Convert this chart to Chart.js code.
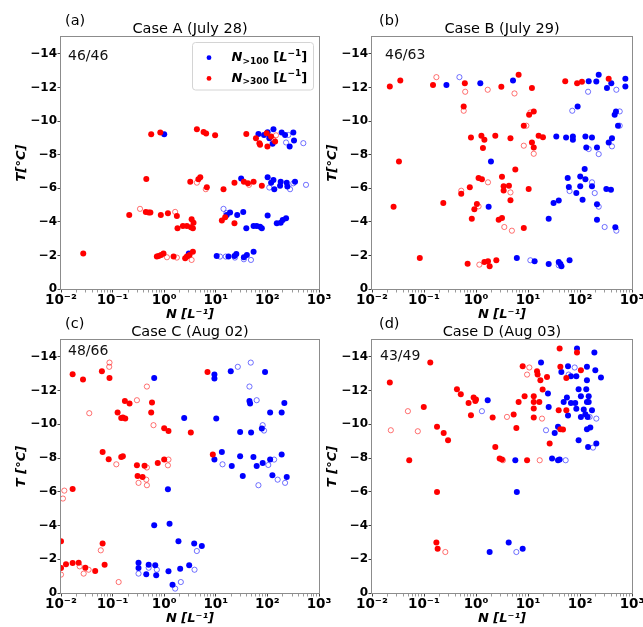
<!DOCTYPE html>
<html><head><meta charset="utf-8">
<script src="https://cdn.jsdelivr.net/npm/chart.js@4.4.1/dist/chart.umd.min.js"></script>
<style>
html,body{margin:0;padding:0;background:#fff;}
#wrap{position:relative;width:643px;height:627px;overflow:hidden;background:#fff;}
canvas{position:absolute;left:0;top:0;}
</style></head><body>
<div id="wrap">
<canvas id="pa" width="643" height="627" style="width:643px;height:627px"></canvas>
<canvas id="pb" width="643" height="627" style="width:643px;height:627px"></canvas>
<canvas id="pc" width="643" height="627" style="width:643px;height:627px"></canvas>
<canvas id="pd" width="643" height="627" style="width:643px;height:627px"></canvas>
</div>
<script>
// ---------- axis ticks / labels ----------
const xTickValues = [0.01, 0.1, 1, 10, 100, 1000];
const xTickLabels = ['10\u207B\u00B2', '10\u207B\u00B9', '10\u2070', '10\u00B9', '10\u00B2', '10\u00B3'];
const yTickValues = [-14, -12, -10, -8, -6, -4, -2, 0];
const panelTags = ['(a)', '(b)', '(c)', '(d)'];
const panelTitles = ['Case A (July 28)', 'Case B (July 29)', 'Case C (Aug 02)', 'Case D (Aug 03)'];
const panelCounts = ['46/46', '46/63', '48/66', '43/49'];
const yAxisTitles = ['T[\u00B0C]', 'T[\u00B0C]', 'T [\u00B0C]', 'T [\u00B0C]'];
const xAxisTitle = 'N [L\u207B\u00B9]';
const legendSubs = ['>100', '>300'];

// ---------- data: [N (L^-1), T (°C)] ----------
const aBlueFilled = [[1.0,-9.21],[67,-9.23],[86,-9.17],[101,-9.33],[109,-8.98],[131,-9.51],[126,-8.64],[189,-9.31],[220,-9.17],[270,-8.48],[318,-9.31],[328,-8.84],
[31,-6.57],[101,-6.65],[118,-6.33],[131,-6.49],[136,-5.94],[176,-6.14],[181,-6.39],[237,-6.33],[244,-6.10],[343,-6.39],
[16.3,-4.41],[18.9,-4.55],[26,-4.41],[34,-4.59],[39,-3.61],[54,-3.75],[62,-3.75],[72,-3.71],[78,-3.61],[101,-4.37],[152,-3.91],[181,-3.95],[198,-4.11],[230,-4.21],
[3.0,-2.12],[10.4,-1.97],[17.6,-1.93],[23,-1.97],[25,-2.08],[35,-1.89],[40,-2.03],[54,-2.22]];
const aBlueOpen = [[255,-9.17],[230,-8.72],[497,-8.68],[109,-6.04],[275,-5.94],[318,-6.29],[560,-6.20],[14.1,-4.77],[16,-4.51],[12.1,-1.93],[15.6,-1.93],[23.5,-1.87],[35,-1.77],[48,-1.73]];
const aRedFilled = [[0.027,-2.12],[0.56,-9.21],[0.84,-9.31],[4.3,-9.51],[5.8,-9.35],[6.5,-9.25],[9.7,-9.15],[39,-9.23],[60,-8.98],[70,-8.68],[72,-8.58],[97,-9.27],[100,-8.48],[118,-9.07],[141,-8.78],
[0.45,-6.55],[3.2,-6.39],[4.6,-6.53],[5.0,-6.65],[6.7,-6.06],[14.1,-5.94],[23,-6.33],[35,-6.39],[42,-6.29],[54,-6.39],[78,-6.14],
[0.21,-4.41],[0.44,-4.59],[0.50,-4.55],[0.54,-4.55],[0.86,-4.41],[1.18,-4.51],[1.76,-4.35],[1.81,-3.61],[2.3,-3.75],[2.75,-3.75],[3.3,-3.67],[3.4,-4.15],[3.7,-3.95],[3.6,-3.61],[13.1,-4.07],[15.2,-4.27],[23,-3.91],
[0.72,-1.93],[0.78,-1.97],[0.87,-2.03],[0.97,-2.12],[1.52,-1.93],[2.55,-1.83],[2.75,-1.93],[3.1,-2.03],[3.6,-2.22]];
const aRedOpen = [[147,-9.15],[131,-8.88],[4.3,-6.33],[6.4,-5.94],[44,-6.2],[0.34,-4.77],[1.63,-4.59],[1.13,-1.89],[1.76,-1.87],[3.4,-1.73]];

const bBlueFilled = [[0.27,-12.14],[1.21,-12.25],[5.15,-12.41],[147,-12.37],[229,-12.75],[206,-12.35],[330,-11.96],[400,-12.25],[745,-12.51],[745,-12.06],
[90,-10.87],[492,-10.57],[464,-10.37],[538,-9.72],
[35,-9.08],[54,-9.02],[73,-9.08],[73,-8.88],[127,-9.08],[170,-9.02],[132,-8.43],[212,-8.43],[356,-8.72],[412,-8.98],
[1.94,-7.59],[1.75,-4.90],[25,-4.18],[31,-5.12],[39,-5.27],[58,-6.60],[61,-6.07],[85,-5.71],[101,-6.70],[101,-6.11],[112,-5.31],[123,-7.14],[127,-6.54],[170,-6.11],[212,-5.04],[212,-4.12],[321,-5.95],[394,-5.91],[478,-3.67],
[6.1,-1.84],[13.4,-1.65],[25,-1.49],[39,-1.61],[42,-1.49],[44,-1.35],[63,-1.71]];
const bBlueOpen = [[0.48,-12.61],[143,-11.74],[500,-11.86],[71,-10.61],[580,-10.57],[580,-9.72],[147,-8.33],[229,-8.03],[412,-8.49],[63,-5.83],[170,-6.35],[192,-5.71],[229,-4.90],[298,-3.69],[500,-3.47],[11.1,-1.71],[39,-1.41]];
const bRedFilled = [[0.022,-12.06],[0.035,-12.41],[0.149,-12.14],[0.61,-12.25],[3.07,-12.04],[6.6,-12.75],[11.9,-11.96],[52,-12.37],[88,-12.25],[109,-12.33],[356,-12.51],
[0.58,-10.87],[10.5,-10.37],[12.9,-10.57],[8.3,-9.72],
[0.80,-9.02],[1.27,-9.12],[2.35,-9.12],[4.6,-8.98],[1.45,-8.88],[1.36,-8.39],[11.9,-8.72],[12.9,-8.43],[16.0,-9.12],[19.4,-9.04],
[0.033,-7.59],
[0.026,-4.90],[0.235,-5.12],[0.52,-5.67],[0.76,-6.05],[0.83,-4.18],[0.93,-4.74],[1.04,-5.06],[1.12,-6.60],[1.30,-6.54],[2.73,-4.12],[3.16,-4.22],[3.16,-6.68],[3.4,-6.11],[3.4,-5.87],[4.3,-6.15],[4.6,-5.29],[5.7,-7.12],[8.3,-3.63],[10.3,-5.95],
[0.083,-1.84],[0.69,-1.51],[1.45,-1.61],[1.70,-1.65],[1.83,-1.35],[2.46,-1.71]];
const bRedOpen = [[0.173,-12.61],[0.62,-11.74],[0.58,-10.61],[1.68,-11.86],[5.5,-11.64],[11.1,-10.51],[9.3,-9.72],[8.3,-8.53],[12.9,-8.05],[0.52,-5.85],[1.12,-4.92],[1.70,-6.35],[3.5,-3.69],[4.6,-5.75],[4.9,-3.47],[1.16,-1.45]];

const cBlueFilled = [[0.64,-12.75],[9.4,-12.95],[9.4,-12.71],[19.5,-13.15],[90,-13.11],[2.44,-10.38],[10.2,-10.34],[29.6,-9.55],[48.3,-9.51],[78,-9.75],[44.9,-11.39],[46.2,-11.23],[113,-10.70],[189,-10.70],[213,-11.27],
[9.4,-7.91],[13.1,-8.36],[20.4,-7.53],[29.6,-8.11],[53.6,-8.07],[62,-7.53],[81,-7.71],[113,-7.91],[189,-8.21],[33.3,-6.94],[125,-6.98],[237,-6.88],
[1.18,-6.15],[0.64,-4.01],[1.27,-4.11],[1.89,-3.07],[3.81,-2.93],[5.36,-2.79],
[0.318,-1.80],[0.50,-1.68],[0.67,-1.64],[0.318,-1.48],[0.449,-1.11],[0.70,-1.05],[1.21,-1.29],[2.04,-1.44],[3.05,-1.64],[1.45,-0.49]];
const cBlueOpen = [[26.7,-13.41],[47.6,-13.66],[44.9,-12.24],[62,-11.43],[81,-9.95],[86,-9.63],[13.5,-7.63],[104,-7.59],[135,-7.91],[158,-6.72],[220,-6.53],[67,-6.39],[4.29,-2.49],[3.87,-1.38],[0.318,-1.15],[0.50,-1.50],[0.72,-1.38],[1.63,-0.26],[2.10,-0.65]];
const cRedFilled = [[0.0168,-12.97],[0.0267,-12.66],[0.062,-13.15],[0.087,-12.75],[0.125,-10.70],[0.173,-11.39],[0.213,-11.23],[0.158,-10.40],[0.176,-10.34],[0.147,-10.38],[0.58,-11.29],[0.56,-10.70],[1.0,-9.77],[1.21,-9.61],[3.28,-9.51],[6.9,-13.11],[8.75,-8.21],
[0.064,-8.36],[0.084,-7.93],[0.147,-8.07],[0.158,-8.11],[0.296,-7.57],[0.305,-6.94],[0.381,-6.88],[0.416,-7.55],[0.75,-7.71],[1.0,-7.91],
[0.0168,-6.17],[0.010,-3.07],[0.064,-2.93],[0.010,-1.48],[0.0125,-1.70],[0.0168,-1.78],[0.022,-1.80],[0.0296,-1.50],[0.046,-1.31],[0.070,-1.68]];
const cRedOpen = [[0.087,-13.66],[0.086,-13.41],[0.296,-11.43],[0.462,-12.24],[0.62,-9.95],[0.0353,-10.66],[0.118,-7.63],[0.318,-6.53],[0.449,-6.72],[0.462,-7.44],[0.462,-6.39],[1.21,-7.91],[1.18,-7.57],[0.0116,-6.07],[0.0109,-5.60],[0.059,-2.53],[0.023,-1.58],[0.0275,-1.15],[0.0343,-1.38],[0.010,-1.09],[0.131,-0.65]];

const dBlueFilled = [[87.5,-14.49],[189,-14.26],[17.8,-13.66],[58.8,-13.45],[136,-13.41],[43.8,-13.11],[197,-13.21],[67,-12.85],[85,-12.85],[136,-12.62],[253,-12.77],[94,-12.08],[132,-12.08],[24.2,-11.83],[104,-11.67],[147,-11.67],[56,-11.59],[1.68,-11.43],[67,-11.27],[81,-11.27],[48.5,-11.33],[136,-11.33],[147,-11.33],[25,-11.03],[85,-10.92],[118,-10.88],[170,-10.84],[58.8,-10.52],[104,-10.44],[127,-10.60],[140,-10.44],[37.8,-9.85],[158,-9.81],[136,-9.71],[32.6,-9.49],[94,-9.06],[206,-8.86],[143,-8.66],[5.7,-7.87],[29,-7.97],[37.8,-7.87],[40.6,-7.91],[6.1,-5.99],[4.25,-2.99],[1.83,-2.43],[7.9,-2.63]];
const dBlueOpen = [[1.30,-10.78],[22.2,-9.65],[53,-7.87],[60.5,-12.95],[79,-13.37],[153,-10.44],[178,-8.62],[206,-10.34],[5.97,-2.43]];
const dRedFilled = [[0.022,-12.48],[0.052,-7.87],[0.099,-11.03],[0.132,-13.66],[0.178,-9.85],[0.178,-5.99],[0.173,-2.99],[0.183,-2.63],[0.239,-9.49],[0.29,-9.06],[0.43,-12.08],[0.51,-11.79],[0.72,-11.27],[0.80,-10.54],[0.90,-11.59],[0.97,-11.39],[1.0,-11.47],[2.09,-10.40],[2.35,-8.66],[2.85,-7.97],[3.16,-7.91],[5.3,-10.58],[5.97,-9.79],[6.6,-11.33],[7.9,-13.45],[8.6,-11.67],[9.6,-7.87],[12.9,-10.40],[12.9,-10.94],[12.9,-11.33],[12.9,-11.67],[14.9,-13.15],[15.3,-12.95],[17.3,-12.62],[16.5,-11.33],[19.1,-12.06],[23.2,-12.81],[26.1,-8.86],[38.9,-10.84],[40.6,-14.49],[41.9,-13.41],[41.9,-9.71],[47.1,-9.69],[54.6,-12.75],[54.6,-10.84],[87.5,-14.26],[104,-13.21]];
const dRedOpen = [[0.023,-9.65],[0.049,-10.78],[0.076,-9.59],[0.257,-2.43],[3.3,-7.87],[3.94,-10.44],[9.6,-12.95],[10.6,-13.37],[16.8,-7.87],[18.6,-10.34]];

// ---------- rendering ----------
const FAM = "'DejaVu Sans', sans-serif";
const BLUE = '#0000ff', RED = '#ff0000';
const BLUE_O = 'rgba(0,0,255,0.55)', RED_O = 'rgba(255,0,0,0.55)';

function buildLogTicks() {
  const t = [];
  for (let i = 0; i < xTickValues.length; i++) {
    const d = xTickValues[i];
    t.push({value: d, major: true});
    if (i < xTickValues.length - 1) for (let k = 2; k <= 9; k++) t.push({value: k * d, major: false});
  }
  return t;
}
function xLabel(v) {
  for (let i = 0; i < xTickValues.length; i++) {
    if (Math.abs(Math.log10(v) - Math.log10(xTickValues[i])) < 1e-6) return xTickLabels[i];
  }
  return '';
}

function drawRuns(ctx, runs, x, y) {
  for (const r of runs) {
    ctx.font = r.font;
    ctx.fillText(r.text, x, y + (r.dy || 0));
    x += ctx.measureText(r.text).width;
  }
}

const decor = {
  id: 'decor',
  afterDraw(chart, args, o) {
    const ctx = chart.ctx, a = chart.chartArea;
    ctx.save();
    ctx.strokeStyle = '#8c8c8c'; ctx.lineWidth = 1;
    ctx.strokeRect(a.left - 0.5, a.top - 0.5, a.right - a.left + 1, a.bottom - a.top + 1);
    ctx.fillStyle = '#000';
    ctx.textBaseline = 'middle'; ctx.textAlign = 'left';
    ctx.font = '14.5px ' + FAM;
    ctx.fillText(o.tag, o.tagX, a.top - 15.5);
    ctx.font = '14px ' + FAM;
    ctx.fillStyle = '#111';
    ctx.fillText(o.count, o.cntX, o.cntY);
    if (o.legend) {
      const x0 = o.legend[0], y0 = o.legend[1], w = 121, h = 47.5, r = 3;
      ctx.beginPath();
      ctx.moveTo(x0 + r, y0); ctx.lineTo(x0 + w - r, y0); ctx.arcTo(x0 + w, y0, x0 + w, y0 + r, r);
      ctx.lineTo(x0 + w, y0 + h - r); ctx.arcTo(x0 + w, y0 + h, x0 + w - r, y0 + h, r);
      ctx.lineTo(x0 + r, y0 + h); ctx.arcTo(x0, y0 + h, x0, y0 + h - r, r);
      ctx.lineTo(x0, y0 + r); ctx.arcTo(x0, y0, x0 + r, y0, r); ctx.closePath();
      ctx.fillStyle = 'rgba(255,255,255,0.85)'; ctx.fill();
      ctx.strokeStyle = '#d4d4d4'; ctx.stroke();
      const cols = [BLUE, RED];
      for (let i = 0; i < 2; i++) {
        const cy = y0 + 15.2 + i * 20.7;
        ctx.beginPath(); ctx.arc(x0 + 16.5, cy, 2.4, 0, Math.PI * 2);
        ctx.fillStyle = cols[i]; ctx.fill();
        ctx.fillStyle = '#000'; ctx.textBaseline = 'alphabetic';
        drawRuns(ctx, [
          {text: 'N', font: 'italic bold 13px ' + FAM},
          {text: legendSubs[i], font: 'bold 9px ' + FAM, dy: 2.5},
          {text: ' [', font: 'bold 13px ' + FAM},
          {text: 'L', font: 'italic bold 13px ' + FAM},
          {text: '\u22121', font: 'bold 9px ' + FAM, dy: -5.5},
          {text: ']', font: 'bold 13px ' + FAM}
        ], x0 + 39, cy + 3.4);
      }
    }
    ctx.restore();
  }
};

function pts(style, data, color, ord) {
  const filled = style === 'f';
  return {
    data: data, showLine: false, clip: 0, order: ord,
    pointRadius: filled ? 3 : 2.6, pointHoverRadius: filled ? 3 : 2.6,
    pointBackgroundColor: filled ? color : 'rgba(255,255,255,0)',
    pointBorderColor: filled ? color : (color === BLUE ? BLUE_O : RED_O),
    pointBorderWidth: filled ? 0 : 1
  };
}

function makePanel(id, i, box, series, extra) {
  const [L, R, T, B] = box;
  const XH = 33.8, YW = 61;
  new Chart(document.getElementById(id), {
    type: 'scatter',
    data: {datasets: [
      pts('f', series[2], RED, 0), pts('o', series[3], RED, 1),
      pts('f', series[0], BLUE, 2), pts('o', series[1], BLUE, 3)
    ]},
    plugins: [decor],
    options: {
      responsive: false, animation: false, devicePixelRatio: 1, events: [],
      layout: {padding: {left: L - YW, right: 643 - R, top: T - 37, bottom: 627 - B - XH}},
      scales: {
        x: {
          type: 'logarithmic', position: 'bottom', min: 0.01, max: 1000,
          afterBuildTicks: s => { s.ticks = buildLogTicks(); },
          afterFit: s => { s.height = XH; s.paddingLeft = 0; s.paddingRight = 0; },
          grid: {display: true, drawOnChartArea: false, drawTicks: true, tickLength: 3.5,
                 tickColor: c => (c.tick && c.tick.major) ? '#444' : '#9a9a9a', tickWidth: 1},
          border: {display: false},
          ticks: {autoSkip: false, maxRotation: 0, minRotation: 0, padding: 0, color: '#000',
                  font: {family: FAM, size: 13.5, weight: 'bold'}, callback: v => xLabel(v)},
          title: {display: true, text: xAxisTitle, color: '#000',
                  font: {family: FAM, size: 13, weight: 'bold', style: 'italic', lineHeight: 1.2},
                  padding: {top: 0, bottom: 0}}
        },
        y: {
          type: 'linear', position: 'left', min: -15, max: 0, reverse: true,
          afterBuildTicks: s => { s.ticks = yTickValues.map(v => ({value: v})); },
          afterFit: s => { s.width = YW; s.paddingTop = 0; s.paddingBottom = 0; },
          grid: {display: true, drawOnChartArea: false, drawTicks: true, tickLength: 3.5, tickColor: '#444'},
          border: {display: false},
          ticks: {autoSkip: false, padding: 0.5, color: '#000',
                  font: {family: FAM, size: 12, weight: 'bold'},
                  callback: v => v === 0 ? '0' : '\u2212' + Math.abs(v)},
          title: {display: true, text: yAxisTitles[i], color: '#000',
                  font: {family: FAM, size: 13, weight: 'bold', style: 'italic', lineHeight: 1.2},
                  padding: {top: 14.2, bottom: 0}}
        }
      },
      plugins: {
        legend: {display: false}, tooltip: {enabled: false},
        title: {display: true, text: panelTitles[i], color: '#000', fullSize: false, align: 'center',
                font: {family: FAM, size: 14.5, weight: 'normal', lineHeight: 1},
                padding: {top: 21.75, bottom: 0.75}},
        decor: Object.assign({tag: panelTags[i], count: panelCounts[i]}, extra)
      }
    }
  });
}

makePanel('pa', 0, [61, 319, 37, 289], [aBlueFilled, aBlueOpen, aRedFilled, aRedOpen],
  {tagX: 65, cntX: 68, cntY: 56, legend: [192.5, 42.5]});
makePanel('pb', 1, [372, 632, 37, 289], [bBlueFilled, bBlueOpen, bRedFilled, bRedOpen],
  {tagX: 379, cntX: 385, cntY: 55.5});
makePanel('pc', 2, [61, 319, 340, 593], [cBlueFilled, cBlueOpen, cRedFilled, cRedOpen],
  {tagX: 65, cntX: 68, cntY: 351});
makePanel('pd', 3, [372, 632, 340, 593], [dBlueFilled, dBlueOpen, dRedFilled, dRedOpen],
  {tagX: 379, cntX: 380, cntY: 356});
</script>
</body></html>
